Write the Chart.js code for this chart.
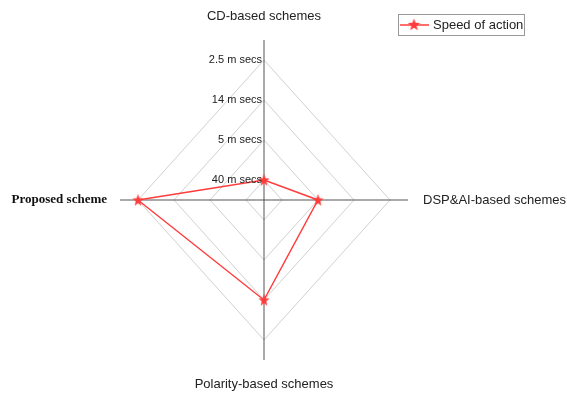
<!DOCTYPE html>
<html>
<head>
<meta charset="utf-8">
<script src="https://cdn.jsdelivr.net/npm/chart.js@4"></script>
<style>
  html, body { margin: 0; padding: 0; background: #fff; }
  #wrap { width: 567px; height: 395px; }
</style>
</head>
<body>
<div id="wrap"><canvas id="radarChart" width="567" height="395"></canvas></div>
<script>
// chart data
const categories = ['CD-based schemes', 'DSP&AI-based schemes', 'Polarity-based schemes', 'Proposed scheme'];
const speedValues = [0.5, 1.5, 2.5, 3.5];
const tickValues = [0.5, 1.5, 2.5, 3.5];
const tickLabels = ['40 m secs', '5 m secs', '14 m secs', '2.5 m secs'];
const seriesName = 'Speed of action';

const RED = '#ff3c3c';
const X_SQUEEZE = 0.9; // the original plot is a bit taller than it is wide

// filled five-point star for the markers
function makeStar(size, color) {
    const c = document.createElement('canvas');
    c.width = size;
    c.height = size;
    const g = c.getContext('2d');
    const r = size / 2, ri = r * 0.42;
    g.beginPath();
    for (let k = 0; k < 10; k++) {
        const rad = k % 2 === 0 ? r : ri;
        const a = -Math.PI / 2 + k * Math.PI / 5;
        g.lineTo(r + rad * Math.cos(a), r + 0.5 + rad * Math.sin(a));
    }
    g.closePath();
    g.fillStyle = color;
    g.fill();
    return c;
}
const starImg = makeStar(13, RED);

const squeezePlugin = {
    id: 'squeeze',
    beforeDraw(chart) {
        const s = chart.scales.r;
        const ctx = chart.ctx;
        ctx.save();
        ctx.translate(s.xCenter, s.yCenter);
        ctx.scale(X_SQUEEZE, 1);
        ctx.translate(-s.xCenter, -s.yCenter);
    },
    afterDatasetsDraw(chart) {
        chart.ctx.restore();
    }
};

const labelsPlugin = {
    id: 'labels',
    afterDraw(chart) {
        const s = chart.scales.r;
        const ctx = chart.ctx;
        const sx = x => s.xCenter + (x - s.xCenter) * X_SQUEEZE;
        ctx.save();

        // tick labels up the top axis
        ctx.font = '11px "Liberation Sans", Arial, sans-serif';
        ctx.fillStyle = '#222';
        ctx.textAlign = 'right';
        ctx.textBaseline = 'middle';
        s.ticks.forEach((t, i) => {
            if (i === 0) return;
            const p = s.getPointPositionForValue(0, t.value);
            ctx.fillText(tickLabels[i - 1], sx(p.x) - 2, p.y);
        });

        // category labels
        categories.forEach((label, i) => {
            const p = s.getPointPosition(i, s.drawingArea);
            const x = sx(p.x), y = p.y;
            const dx = Math.round((p.x - s.xCenter) / s.drawingArea);
            const dy = Math.round((p.y - s.yCenter) / s.drawingArea);
            ctx.textBaseline = 'middle';
            if (i === 3) {
                ctx.font = 'bold 13px "Liberation Serif", "Times New Roman", serif';
                ctx.fillStyle = '#111';
            } else {
                ctx.font = '13px "Liberation Sans", Arial, sans-serif';
                ctx.fillStyle = '#222';
            }
            if (dx > 0) {
                ctx.textAlign = 'left';
                ctx.fillText(label, x + 15, y);
            } else if (dx < 0) {
                ctx.textAlign = 'right';
                ctx.fillText(label, x - 13, y);
            } else {
                ctx.textAlign = 'center';
                ctx.fillText(label, x, y + dy * 24);
            }
        });

        // legend box
        const bx = 398, by = 14, bw = 126, bh = 21;
        ctx.strokeStyle = '#999';
        ctx.lineWidth = 1;
        ctx.strokeRect(bx + 0.5, by + 0.5, bw, bh);
        const ly = by + bh / 2 + 0.5;
        ctx.strokeStyle = RED;
        ctx.lineWidth = 1.5;
        ctx.beginPath();
        ctx.moveTo(bx + 2, ly);
        ctx.lineTo(bx + 31, ly);
        ctx.stroke();
        ctx.drawImage(starImg, bx + 16 - 6.5, ly - 7);
        ctx.font = '13px "Liberation Sans", Arial, sans-serif';
        ctx.fillStyle = '#222';
        ctx.textAlign = 'left';
        ctx.textBaseline = 'middle';
        ctx.fillText(chart.data.datasets[0].label, bx + 35, ly);

        ctx.restore();
    }
};

new Chart(document.getElementById('radarChart'), {
    type: 'radar',
    data: {
        labels: categories,
        datasets: [{
            label: seriesName,
            data: speedValues,
            borderColor: RED,
            backgroundColor: 'rgba(0,0,0,0)',
            borderWidth: 1.5,
            fill: false,
            pointStyle: starImg,
            pointRadius: 6,
            tension: 0
        }]
    },
    options: {
        responsive: false,
        animation: false,
        layout: {
            padding: { left: 104, right: 143, top: 40, bottom: 35 }
        },
        scales: {
            r: {
                min: 0,
                max: 4,
                afterBuildTicks: (scale) => {
                    scale.ticks = [0, ...tickValues].map(v => ({ value: v }));
                },
                ticks: { display: false },
                pointLabels: { display: false },
                grid: { color: '#cfcfcf', lineWidth: 1 },
                angleLines: { color: '#4a4a4a', lineWidth: 1 }
            }
        },
        plugins: {
            legend: { display: false },
            tooltip: { enabled: false }
        }
    },
    plugins: [squeezePlugin, labelsPlugin]
});
</script>
</body>
</html>
